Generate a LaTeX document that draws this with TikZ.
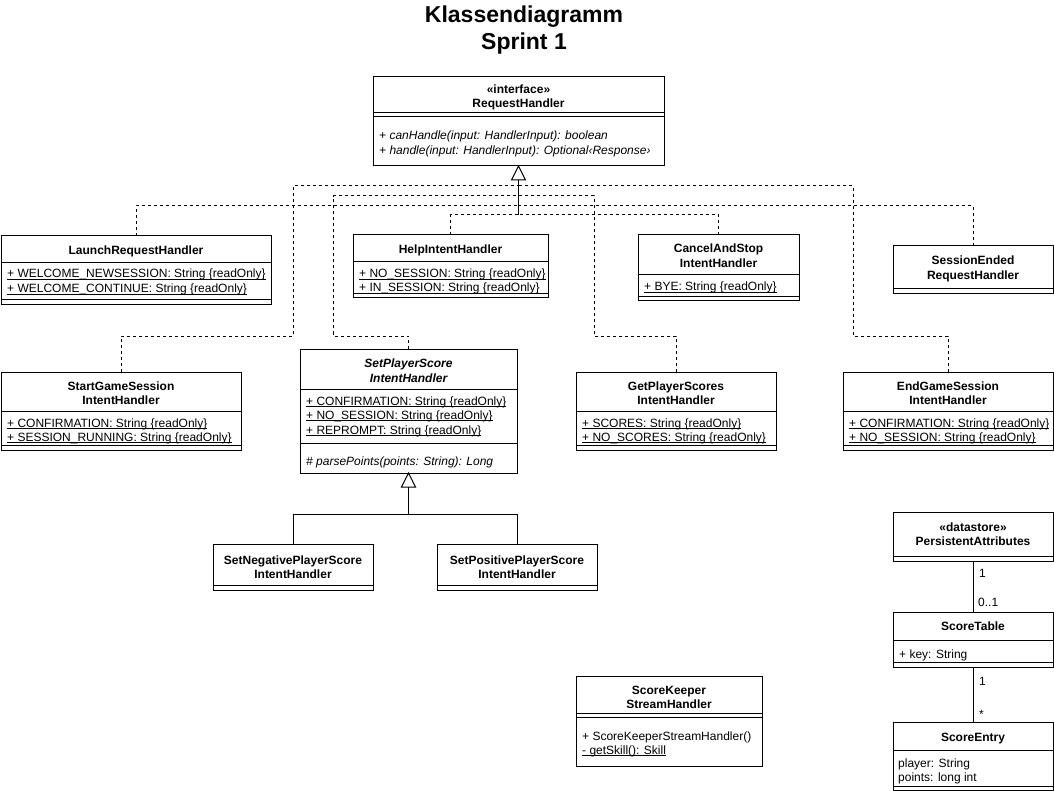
\documentclass[tikz,border=0pt]{standalone}
\usepackage{fontspec}
\setmainfont{Liberation Sans}
\usetikzlibrary{calc}
\tikzset{
  umlbox/.style={draw, line width=1pt, anchor=north west, inner sep=0pt, outer sep=0pt, fill=white},
  sepline/.style={line width=1pt},
  conn/.style={line width=1pt, dash pattern=on 3pt off 3pt},
  solidconn/.style={line width=1pt},
  nm/.style={anchor=base, inner sep=0pt, font=\fontsize{12}{14}\selectfont\bfseries},
  attr/.style={anchor=base west, inner sep=0pt, font=\fontsize{12}{14}\selectfont},
  ttl/.style={anchor=base, inner sep=0pt, font=\fontsize{23}{27}\selectfont\bfseries},
  gentri/.style={line width=1pt, fill=white},
}
\newcommand\umlcls[5]{\node[umlbox, minimum width={(#4-#2)*1pt}, minimum height={(#5-#3)*1pt}] (#1) at (#2,#3) {};}
\newcommand\hsep[2]{\draw[sepline] (#1.west |- 0,#2) -- (#1.east |- 0,#2);}
\newcommand\nametext[4]{\node[nm] (#1) at (#2.north |- 0,#3) {#4};}
\newcommand\attrtext[4]{\node[attr] (#1) at (#2,#3) {#4};}
\newcommand\ul[1]{\setbox0\hbox{#1}\rlap{\rule[-2pt]{\wd0}{0.8pt}}\box0}
\begin{document}
\begin{tikzpicture}[x=1pt,y=-1pt]
\useasboundingbox[fill=white] (0,0) rectangle (1054,791);
% title
\node[ttl] (t1) at (524,23) {Klassendiagramm};
\node[ttl] (t2) at (524,50) {Sprint 1};

% RequestHandler
\umlcls{rh}{373}{77}{664}{166}
\hsep{rh}{113}\hsep{rh}{117}
\nametext{rhs}{rh}{94}{«interface»}
\nametext{rhn}{rh}{108}{RequestHandler}
\attrtext{rhm1}{379}{140}{\itshape + canHandle(input: HandlerInput): boolean}
\attrtext{rhm2}{379}{155}{\itshape + handle(input: HandlerInput): Optional‹Response›}

% LaunchRequestHandler
\umlcls{launch}{1}{236}{271}{305}
\hsep{launch}{263}\hsep{launch}{300}
\nametext{launchn}{launch}{255}{LaunchRequestHandler}
\attrtext{launcha1}{7}{278}{\ul{+ WELCOME\_NEWSESSION: String \{readOnly\}}}
\attrtext{launcha2}{7}{293}{\ul{+ WELCOME\_CONTINUE: String \{readOnly\}}}

% HelpIntentHandler
\umlcls{help}{353}{235}{548}{298}
\hsep{help}{262}\hsep{help}{294}
\nametext{helpn}{help}{254}{HelpIntentHandler}
\attrtext{helpa1}{359}{278}{\ul{+ NO\_SESSION: String \{readOnly\}}}
\attrtext{helpa2}{359}{292}{\ul{+ IN\_SESSION: String \{readOnly\}}}

% CancelAndStop
\umlcls{cancel}{638}{235}{799}{301}
\hsep{cancel}{275}\hsep{cancel}{297}
\nametext{canceln1}{cancel}{253}{CancelAndStop}
\nametext{canceln2}{cancel}{268}{IntentHandler}
\attrtext{cancela1}{644}{291}{\ul{+ BYE: String \{readOnly\}}}

% SessionEnded
\umlcls{sessend}{893}{246}{1053}{294}
\hsep{sessend}{289}
\nametext{sessendn1}{sessend}{265}{SessionEnded}
\nametext{sessendn2}{sessend}{280}{RequestHandler}

% StartGameSession
\umlcls{start}{1}{372}{241}{450}
\hsep{start}{411}\hsep{start}{445}
\nametext{startn1}{start}{390}{StartGameSession}
\nametext{startn2}{start}{404}{IntentHandler}
\attrtext{starta1}{7}{427}{\ul{+ CONFIRMATION: String \{readOnly\}}}
\attrtext{starta2}{7}{441}{\ul{+ SESSION\_RUNNING: String \{readOnly\}}}

% SetPlayerScore
\umlcls{sps}{300}{349}{517}{473}
\hsep{sps}{389}\hsep{sps}{443}
\nametext{spsn1}{sps}{367}{\itshape SetPlayerScore}
\nametext{spsn2}{sps}{382}{\itshape IntentHandler}
\attrtext{spsa1}{306}{405}{\ul{+ CONFIRMATION: String \{readOnly\}}}
\attrtext{spsa2}{306}{419}{\ul{+ NO\_SESSION: String \{readOnly\}}}
\attrtext{spsa3}{306}{434}{\ul{+ REPROMPT: String \{readOnly\}}}
\attrtext{spsm1}{306}{465}{\itshape \# parsePoints(points: String): Long}

% GetPlayerScores
\umlcls{gps}{576}{372}{776}{450}
\hsep{gps}{411}\hsep{gps}{445}
\nametext{gpsn1}{gps}{390}{GetPlayerScores}
\nametext{gpsn2}{gps}{404}{IntentHandler}
\attrtext{gpsa1}{582}{427}{\ul{+ SCORES: String \{readOnly\}}}
\attrtext{gpsa2}{582}{441}{\ul{+ NO\_SCORES: String \{readOnly\}}}

% EndGameSession
\umlcls{egs}{843}{372}{1053}{450}
\hsep{egs}{411}\hsep{egs}{445}
\nametext{egsn1}{egs}{390}{EndGameSession}
\nametext{egsn2}{egs}{404}{IntentHandler}
\attrtext{egsa1}{849}{427}{\ul{+ CONFIRMATION: String \{readOnly\}}}
\attrtext{egsa2}{849}{441}{\ul{+ NO\_SESSION: String \{readOnly\}}}

% SetNegative / SetPositive
\umlcls{setneg}{213}{544}{373}{590}
\hsep{setneg}{585}
\nametext{setnegn1}{setneg}{564}{SetNegativePlayerScore}
\nametext{setnegn2}{setneg}{578}{IntentHandler}
\umlcls{setpos}{437}{544}{597}{590}
\hsep{setpos}{585}
\nametext{setposn1}{setpos}{564}{SetPositivePlayerScore}
\nametext{setposn2}{setpos}{578}{IntentHandler}

% PersistentAttributes
\umlcls{pa}{893}{512}{1053}{561}
\hsep{pa}{556}
\nametext{pas}{pa}{531}{«datastore»}
\nametext{pan}{pa}{545}{PersistentAttributes}

% ScoreTable
\umlcls{st}{893}{612}{1053}{667}
\hsep{st}{640}\hsep{st}{662}
\nametext{stn}{st}{630}{ScoreTable}
\attrtext{sta1}{899}{658}{+ key: String}

% ScoreEntry
\umlcls{se}{893}{722}{1053}{790}
\hsep{se}{750}\hsep{se}{786}
\nametext{sen}{se}{741}{ScoreEntry}
\attrtext{sea1}{898}{767}{player: String}
\attrtext{sea2}{898}{781}{points: long int}

% ScoreKeeper
\umlcls{sk}{576}{676}{762}{766}
\hsep{sk}{713}\hsep{sk}{717}
\nametext{skn1}{sk}{694}{ScoreKeeper}
\nametext{skn2}{sk}{708}{StreamHandler}
\attrtext{skm1}{582}{740}{+ ScoreKeeperStreamHandler()}
\attrtext{skm2}{582}{754}{\ul{- getSkill(): Skill}}

% realization connectors to RequestHandler
\coordinate (tri) at (rh.south |- 0,180);
\coordinate (j1) at (rh.south |- 0,186);
\coordinate (j2) at (rh.south |- 0,196);
\coordinate (j3) at (rh.south |- 0,206);
\coordinate (j4) at (rh.south |- 0,215);
\draw[conn] (launch.north) |- (j3);
\draw[conn] (sessend.north) |- (j3);
\draw[conn] (help.north) |- (j4);
\draw[conn] (cancel.north) |- (j4);
\draw[conn] (start.north) |- (293,336) |- (j1);
\draw[conn] (egs.north) |- (853,336) |- (j1);
\draw[conn] (sps.north) |- (333,336) |- (j2);
\draw[conn] (gps.north) |- (594,336) |- (j2);
\draw[solidconn] (tri) -- (j4);
\draw[gentri] (rh.south) -- ++(-7,14) -- ++(14,0) -- cycle;

% generalization SetPlayerScore
\coordinate (tri2) at (sps.south |- 0,487);
\coordinate (g) at (sps.south |- 0,514);
\draw[solidconn] (setneg.north) |- (g) -- (tri2);
\draw[solidconn] (setpos.north) |- (g);
\draw[gentri] (sps.south) -- ++(-7,14) -- ++(14,0) -- cycle;

% associations
\draw[solidconn] (pa.south) -- (st.north);
\draw[solidconn] (st.south) -- (se.north);
\node[attr] (m1) at (979,577) {1};
\node[attr] (m2) at (978,606) {0..1};
\node[attr] (m3) at (979,685) {1};
\node[attr] (m4) at (979,718) {*};
\end{tikzpicture}
\end{document}
